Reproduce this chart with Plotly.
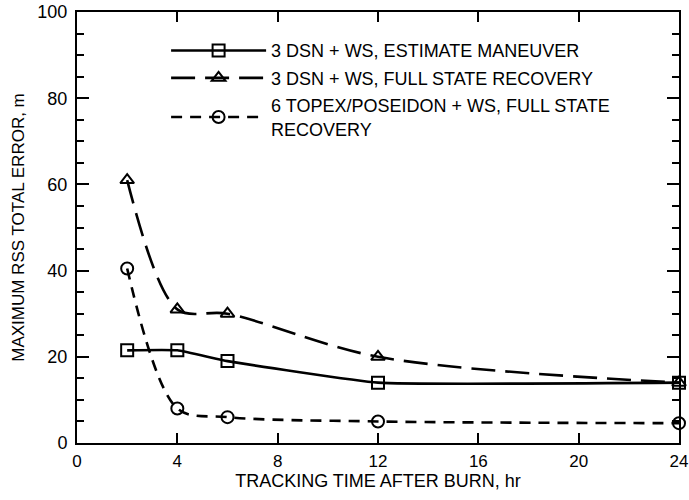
import plotly.graph_objects as go

hours = [2, 4, 6, 12, 24]
est_maneuver = [21.5, 21.5, 19, 14, 14]
full_state_dsn = [61, 31, 30, 20, 14]
full_state_topex = [40.5, 8, 6, 5, 4.6]

names = [
    "3 DSN + WS, ESTIMATE MANEUVER",
    "3 DSN + WS, FULL STATE RECOVERY",
    "6 TOPEX/POSEIDON + WS, FULL STATE<br>RECOVERY",
]
x_ticks = [0, 4, 8, 12, 16, 20, 24]
y_ticks = [0, 20, 40, 60, 80, 100]

FONT = "Liberation Sans, Arial, Helvetica, sans-serif"

fig = go.Figure()
specs = [
    (est_maneuver, "square-open", "solid", 0.35),
    (full_state_dsn, "triangle-up-open", "24px,10px", 0.9),
    (full_state_topex, "circle-open", "11px,8px", 0.9),
]
for i, ((ys, sym, dash, smooth), name) in enumerate(zip(specs, names)):
    fig.add_trace(go.Scatter(
        x=hours, y=ys, name=name, mode="lines+markers", legendgroup=f"g{i}",
        line=dict(color="black", width=2.6, dash=dash, shape="spline", smoothing=smooth),
        marker=dict(symbol=sym, size=12, color="black", line=dict(width=2, color="black")),
        cliponaxis=False,
    ))

axis_common = dict(
    showline=True, linecolor="black", linewidth=2, mirror="allticks",
    ticks="inside", tickcolor="black", tickwidth=1.5, showgrid=False, zeroline=False,
    automargin=False, ticklabeloverflow="allow",
)
fig.update_xaxes(
    range=[0, 24], tickvals=x_ticks, ticklen=10, ticklabelstandoff=2,
    tickfont=dict(family=FONT, size=17, color="black"),
    title=dict(text="TRACKING TIME AFTER BURN, hr", font=dict(family=FONT, size=18, color="black"), standoff=4),
    **axis_common,
)
fig.update_yaxes(
    range=[0, 100], tickvals=y_ticks, ticklen=12, ticklabelstandoff=4,
    tickfont=dict(family=FONT, size=18, color="black"),
    minor=dict(dtick=5, ticks="inside", ticklen=7, tickcolor="black", tickwidth=1.5),
    title=dict(text="MAXIMUM RSS TOTAL ERROR, m", font=dict(family=FONT, size=17, color="black"), standoff=8),
    **axis_common,
)
fig.update_layout(
    width=689, height=500,
    margin=dict(l=77, r=10, t=12, b=57),
    paper_bgcolor="white", plot_bgcolor="white",
    showlegend=True,
    legend=dict(
        x=0.148, y=0.953, xanchor="left", yanchor="top",
        bgcolor="rgba(0,0,0,0)", borderwidth=0,
        font=dict(family=FONT, size=18, color="black"),
        itemwidth=95, traceorder="grouped", tracegroupgap=1,
    ),
)
fig.write_html(
    "out.html",
    config={"displayModeBar": False},
    post_script="document.body.style.margin='0';document.body.style.overflow='hidden';",
)
